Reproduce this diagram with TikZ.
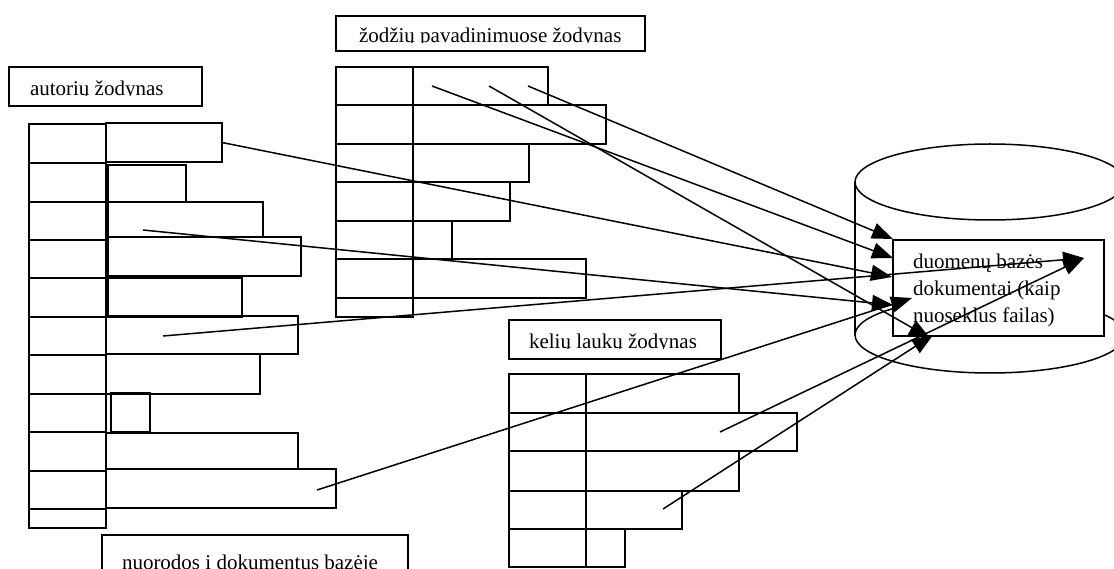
\documentclass[tikz,border=0pt]{standalone}
\usepackage{fontspec}
\setmainfont{Liberation Serif}
\usetikzlibrary{arrows.meta}
\begin{document}
\begin{tikzpicture}[x=1pt, y=-1pt,
  every node/.style={inner sep=0pt, outer sep=0pt},
  cellbox/.style={draw, line width=1.5pt, anchor=north west},
  tag/.style={draw, line width=1.5pt, anchor=north west},
  tagtext/.style={anchor=base west, font=\fontsize{21}{25}\selectfont},
  textmask/.style={fill=white},
  link/.style={line width=1.5pt, -{Triangle[length=21pt, width=16pt]}},
  outline/.style={line width=1.5pt},
]
\path[use as bounding box] (0,0) rectangle (1114,569);
\clip (0,0) rectangle (1114,569);

% ---------- author dictionary
\foreach \t/\b [count=\i] in {124/163,163/202,202/240,240/278,278/317,317/355,355/394,394/432,432/471,471/509,509/528}
  \node[cellbox, minimum width=77, minimum height={\b-\t}] (aL\i) at (29,\t) {};
\foreach \x/\t/\r/\b [count=\i] in {106/123/222/162,108/165/186/202,108/202/263/237,108/237/301/276,108/278/242/317,106/316/298/354,106/354/260/394,111/393/150/432,106/433/298/469,106/469/336/508}
  \node[cellbox, minimum width={\r-\x}, minimum height={\b-\t}] (aR\i) at (\x,\t) {};
\node[tag, minimum width=193, minimum height=39] (authorsTag) at (9,67) {};
\node[tagtext] (authorsText) at (30,95.5) {autorių žodynas};
% the text frame cuts the lettering off at its baseline
\fill[textmask] (10,95.6) rectangle (201,105.2);

% ---------- title-word dictionary
\foreach \t/\b [count=\i] in {67/105,105/144,144/182,182/221,221/259,259/298,298/317}
  \node[cellbox, minimum width=77, minimum height={\b-\t}] (wL\i) at (336,\t) {};
\foreach \t/\r/\b [count=\i] in {67/548/105,105/606/144,144/529/182,182/510/221,221/452/259,259/586/298}
  \node[cellbox, minimum width={\r-413}, minimum height={\b-\t}] (wR\i) at (413,\t) {};
\node[tag, minimum width=309, minimum height=35] (wordsTag) at (336,16) {};
\node[tagtext] (wordsText) at (359,42.5) {žodžių pavadinimuose žodynas};
\fill[textmask] (337,42.6) rectangle (644,50.2);

% ---------- field-path dictionary
\foreach \t/\b [count=\i] in {374/413,413/451,451/491,491/529,529/567}
  \node[cellbox, minimum width=77, minimum height={\b-\t}] (kL\i) at (509,\t) {};
\foreach \t/\r/\b [count=\i] in {374/739/413,413/797/451,451/739/491,491/682/529,529/625/567}
  \node[cellbox, minimum width={\r-586}, minimum height={\b-\t}] (kR\i) at (586,\t) {};
\node[tag, minimum width=212, minimum height=39] (pathsTag) at (509,320) {};
\node[tagtext] (pathsText) at (529,348.5) {kelių laukų žodynas};
\fill[textmask] (510,348.6) rectangle (720,358.2);

% ---------- references caption
\node[tag, minimum width=306, minimum height=45] (refsTag) at (102,535) {};
\node[tagtext] (refsText) at (122,569) {nuorodos į dokumentus bazėje};

% ---------- database cylinder
\coordinate (cylTop) at (990,182);
\coordinate (cylBot) at (990,335);
\draw[outline] (cylTop) ellipse [x radius=135, y radius=38];
\draw[outline] (cylBot) ellipse [x radius=135, y radius=38];
\draw[outline] ([xshift=-135pt]cylTop) -- ([xshift=-135pt]cylBot);
\draw[outline] ([xshift=135pt]cylTop) -- ([xshift=135pt]cylBot);
\node[cellbox, fill=white, minimum width=211, minimum height=96] (db) at (893,240) {};
\node[anchor=north west, align=left, font=\fontsize{21}{27}\selectfont] (dbText) at (913,254)
  {duomenų bazės\\dokumentai (kaip\\nuoseklus failas)};

% ---------- connector ends
\coordinate (sA3) at (143,230);
\coordinate (sA6) at (163,336);
\coordinate (sA10) at (317,490);
\coordinate (sW1) at (432,86);
\coordinate (sW2) at (489,86);
\coordinate (sW3) at (528,86);
\coordinate (sK2) at (720,432);
\coordinate (sK4) at (663,509);

\coordinate (tA) at (893,239);
\coordinate (tB) at (893,258);
\coordinate (tC) at (892,277);
\coordinate (tD) at (893,305);
\coordinate (tE) at (912,298);
\coordinate (tF) at (930,338);
\coordinate (tG) at (933,335);
\coordinate (tH) at (1084,258);

% ---------- connectors
\draw[link] (sW3) -- (tA);
\draw[link] (sW1) -- (tB);
\draw[link] (aR1.east) -- (tC);
\draw[link] (sA3) -- (tD);
\draw[link] (sA10) -- (tE);
\draw[link] (sW2) -- (tF);
\draw[link] (sK4) -- (tG);
\draw[link] (sA6) -- (tH);
\draw[link] (sK2) -- (tH);
\end{tikzpicture}
\end{document}
